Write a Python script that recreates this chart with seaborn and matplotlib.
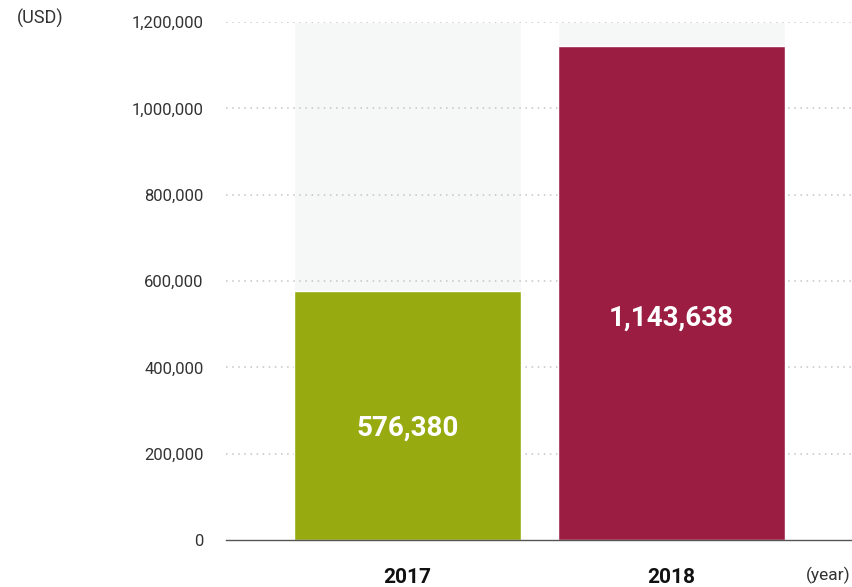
import matplotlib
matplotlib.use("Agg")
import matplotlib.pyplot as plt
import seaborn as sns
import pandas as pd

years = ["2017", "2018"]
values = [576380, 1143638]
value_labels = ["576,380", "1,143,638"]
max_values = [1200000, 1200000]
colors = ["#97AB10", "#9B1D42"]
yticks = [0, 200000, 400000, 600000, 800000, 1000000, 1200000]
ytick_labels = ["0", "200,000", "400,000", "600,000", "800,000", "1,000,000", "1,200,000"]

sns.set_style("white")
plt.rcParams['font.family'] = ['Roboto', 'DejaVu Sans']

df = pd.DataFrame({"year": years, "value": values, "max": max_values})

fig = plt.figure(figsize=(8.52, 5.87), dpi=100)
ax = fig.add_axes([226/852, 47/587, (852-226)/852, (540-22)/587])

sns.barplot(data=df, x="year", y="max", color="#F6F7F7", saturation=1, width=0.86, ax=ax, zorder=1)
sns.barplot(data=df, x="year", y="value", hue="year", palette=colors, saturation=1, width=0.86,
            ax=ax, legend=False, zorder=3)

ax.set_ylim(0, 1200000)
ax.set_xlim(-0.6875, 1.684)
ax.set_yticks(yticks)
ax.set_yticklabels(ytick_labels, fontsize=12, color="#333333")
ax.tick_params(axis="y", length=0, pad=16)
ax.tick_params(axis="x", length=0, pad=20)
ax.set_xticks(range(len(years)))
ax.set_xticklabels(years, fontsize=15, fontweight="bold", color="#111111")
ax.set_xlabel("")
ax.set_ylabel("")

for y in yticks[1:]:
    ax.axhline(y, color="#C4C4C4", linestyle=(0, (1, 3)), linewidth=1.1, zorder=2)

for s in ["top", "right", "left"]:
    ax.spines[s].set_visible(False)
ax.spines["bottom"].set_color("#555555")
ax.spines["bottom"].set_linewidth(1)
ax.spines["bottom"].set_zorder(4)

for i, (v, lab) in enumerate(zip(values, value_labels)):
    ax.text(i, v * 0.45, lab, ha="center", va="center", color="white",
            fontsize=20, fontweight="bold", zorder=5)

fig.text(40/852, 1 - 18/587, "(USD)", ha="center", va="center", fontsize=13, color="#333333")
fig.text(828/852, 1 - 575/587, "(year)", ha="center", va="center", fontsize=12.5, color="#333333")

fig.savefig("out.png", dpi=100)
